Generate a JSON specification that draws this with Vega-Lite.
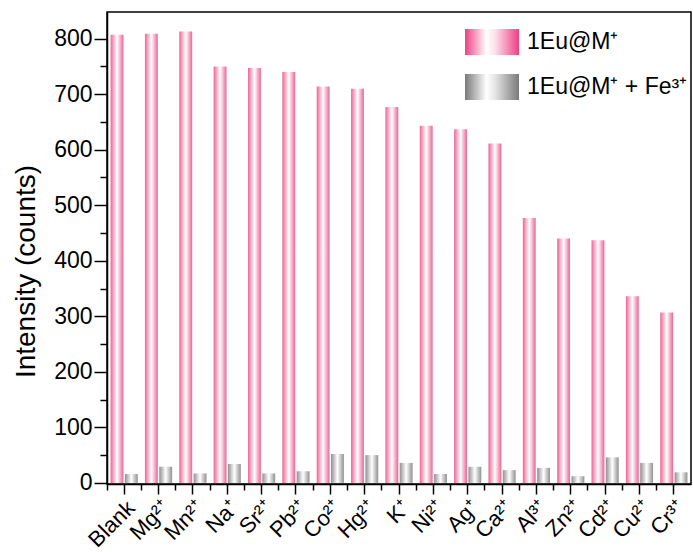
{
  "$schema": "https://vega.github.io/schema/vega-lite/v6.json",
  "width": 584,
  "height": 472,
  "autosize": {"type": "none"},
  "padding": {"left": 107, "top": 12, "right": 2, "bottom": 68},
  "background": "white",
  "config": {
    "view": {"stroke": "black", "strokeWidth": 1.5},
    "font": "Liberation Sans",
    "axis": {"domainColor": "black", "domainWidth": 1.5, "tickColor": "black", "tickWidth": 1.5, "labelColor": "black", "titleColor": "black", "grid": false, "labelFont": "Liberation Sans", "titleFont": "Liberation Sans"}
  },
  "data": {"values": [
    {"ion": "Blank", "series": "1Eu@M⁺", "value": 807},
    {"ion": "Blank", "series": "1Eu@M⁺ + Fe³⁺", "value": 16},
    {"ion": "Mg²⁺", "series": "1Eu@M⁺", "value": 809},
    {"ion": "Mg²⁺", "series": "1Eu@M⁺ + Fe³⁺", "value": 29},
    {"ion": "Mn²⁺", "series": "1Eu@M⁺", "value": 813},
    {"ion": "Mn²⁺", "series": "1Eu@M⁺ + Fe³⁺", "value": 17},
    {"ion": "Na⁺", "series": "1Eu@M⁺", "value": 750},
    {"ion": "Na⁺", "series": "1Eu@M⁺ + Fe³⁺", "value": 34},
    {"ion": "Sr²⁺", "series": "1Eu@M⁺", "value": 747},
    {"ion": "Sr²⁺", "series": "1Eu@M⁺ + Fe³⁺", "value": 17},
    {"ion": "Pb²⁺", "series": "1Eu@M⁺", "value": 740},
    {"ion": "Pb²⁺", "series": "1Eu@M⁺ + Fe³⁺", "value": 21},
    {"ion": "Co²⁺", "series": "1Eu@M⁺", "value": 714},
    {"ion": "Co²⁺", "series": "1Eu@M⁺ + Fe³⁺", "value": 52},
    {"ion": "Hg²⁺", "series": "1Eu@M⁺", "value": 710},
    {"ion": "Hg²⁺", "series": "1Eu@M⁺ + Fe³⁺", "value": 50},
    {"ion": "K⁺", "series": "1Eu@M⁺", "value": 677},
    {"ion": "K⁺", "series": "1Eu@M⁺ + Fe³⁺", "value": 36},
    {"ion": "Ni²⁺", "series": "1Eu@M⁺", "value": 643},
    {"ion": "Ni²⁺", "series": "1Eu@M⁺ + Fe³⁺", "value": 16},
    {"ion": "Ag⁺", "series": "1Eu@M⁺", "value": 637},
    {"ion": "Ag⁺", "series": "1Eu@M⁺ + Fe³⁺", "value": 29},
    {"ion": "Ca²⁺", "series": "1Eu@M⁺", "value": 611},
    {"ion": "Ca²⁺", "series": "1Eu@M⁺ + Fe³⁺", "value": 23},
    {"ion": "Al³⁺", "series": "1Eu@M⁺", "value": 477},
    {"ion": "Al³⁺", "series": "1Eu@M⁺ + Fe³⁺", "value": 27},
    {"ion": "Zn²⁺", "series": "1Eu@M⁺", "value": 440},
    {"ion": "Zn²⁺", "series": "1Eu@M⁺ + Fe³⁺", "value": 12},
    {"ion": "Cd²⁺", "series": "1Eu@M⁺", "value": 437},
    {"ion": "Cd²⁺", "series": "1Eu@M⁺ + Fe³⁺", "value": 46},
    {"ion": "Cu²⁺", "series": "1Eu@M⁺", "value": 336},
    {"ion": "Cu²⁺", "series": "1Eu@M⁺ + Fe³⁺", "value": 36},
    {"ion": "Cr³⁺", "series": "1Eu@M⁺", "value": 307},
    {"ion": "Cr³⁺", "series": "1Eu@M⁺ + Fe³⁺", "value": 19}
  ]},
  "layer": [
    {
      "mark": {"type": "bar", "strokeWidth": 0},
      "encoding": {
        "x": {"field": "ion", "type": "nominal", "sort": null,
              "scale": {"paddingInner": 0, "paddingOuter": 0},
              "axis": {"title": null, "labelAngle": -45, "labelFontSize": 22, "tickSize": 10, "labelPadding": 15, "labelOffset": 12, "labelAlign": "right", "labelBaseline": "alphabetic"}},
        "xOffset": {"field": "series", "type": "nominal", "sort": null,
              "scale": {"paddingInner": 0.1, "paddingOuter": 0.25}},
        "y": {"field": "value", "type": "quantitative",
              "scale": {"domain": [-2, 848], "nice": false, "zero": false},
              "axis": {"title": "Intensity (counts)", "titleFontSize": 28, "titleFontWeight": "normal", "titleX": -73, "titleY": 259, "titleBaseline": "alphabetic", "titleAngle": -90, "titleAlign": "center", "labelFontSize": 23, "values": [0, 100, 200, 300, 400, 500, 600, 700, 800], "tickSize": 13, "labelPadding": 2}},
        "y2": {"datum": 0},
        "fill": {
          "condition": {"test": "datum.series === '1Eu@M⁺'",
            "value": {"gradient": "linear", "x1": 0, "y1": 0, "x2": 1, "y2": 0, "stops": [{"offset": 0, "color": "#ee6495"}, {"offset": 0.5, "color": "#ffffff"}, {"offset": 1, "color": "#ee6495"}]}},
          "value": {"gradient": "linear", "x1": 0, "y1": 0, "x2": 1, "y2": 0, "stops": [{"offset": 0, "color": "#909090"}, {"offset": 0.5, "color": "#ffffff"}, {"offset": 1, "color": "#909090"}]}
        }
      }
    },
    {
      "mark": {"type": "point", "opacity": 0, "filled": true, "strokeWidth": 0,
               "fill": {"expr": "datum.value === '1Eu@M⁺' ? {gradient: 'linear', x1: 0, y1: 0, x2: 1, y2: 0, stops: [{offset: 0, color: '#ee3f84'}, {offset: 0.4, color: '#ffffff'}, {offset: 0.55, color: '#fde3ec'}, {offset: 1, color: '#ee3f84'}]} : {gradient: 'linear', x1: 0, y1: 0, x2: 1, y2: 0, stops: [{offset: 0, color: '#7a7a7a'}, {offset: 0.4, color: '#ffffff'}, {offset: 0.55, color: '#e6e6e6'}, {offset: 1, color: '#7a7a7a'}]}"}},
      "encoding": {
        "x": {"field": "ion", "type": "nominal", "sort": null,
              "axis": {"title": null, "labels": false, "domain": false, "tickSize": 6, "bandPosition": 0, "orient": "bottom"}},
        "y": {"field": "value", "type": "quantitative",
              "axis": {"title": null, "labels": false, "domain": false, "tickSize": 7, "values": [50, 150, 250, 350, 450, 550, 650, 750], "orient": "left"}},
        "shape": {"field": "series", "type": "nominal", "sort": null,
              "scale": {"range": ["M-1,-0.48H1V0.48H-1Z", "M-1,-0.48H1V0.48H-1Z"]},
              "legend": {"title": null, "orient": "none", "legendX": 358, "legendY": 3, "symbolSize": 2916, "symbolStrokeWidth": 0, "labelFontSize": 23, "labelFont": "Liberation Sans", "labelColor": "black", "labelOffset": 8, "labelLimit": 400, "rowPadding": 5}}
      }
    }
  ],
  "resolve": {"axis": {"x": "independent", "y": "independent"}}
}
